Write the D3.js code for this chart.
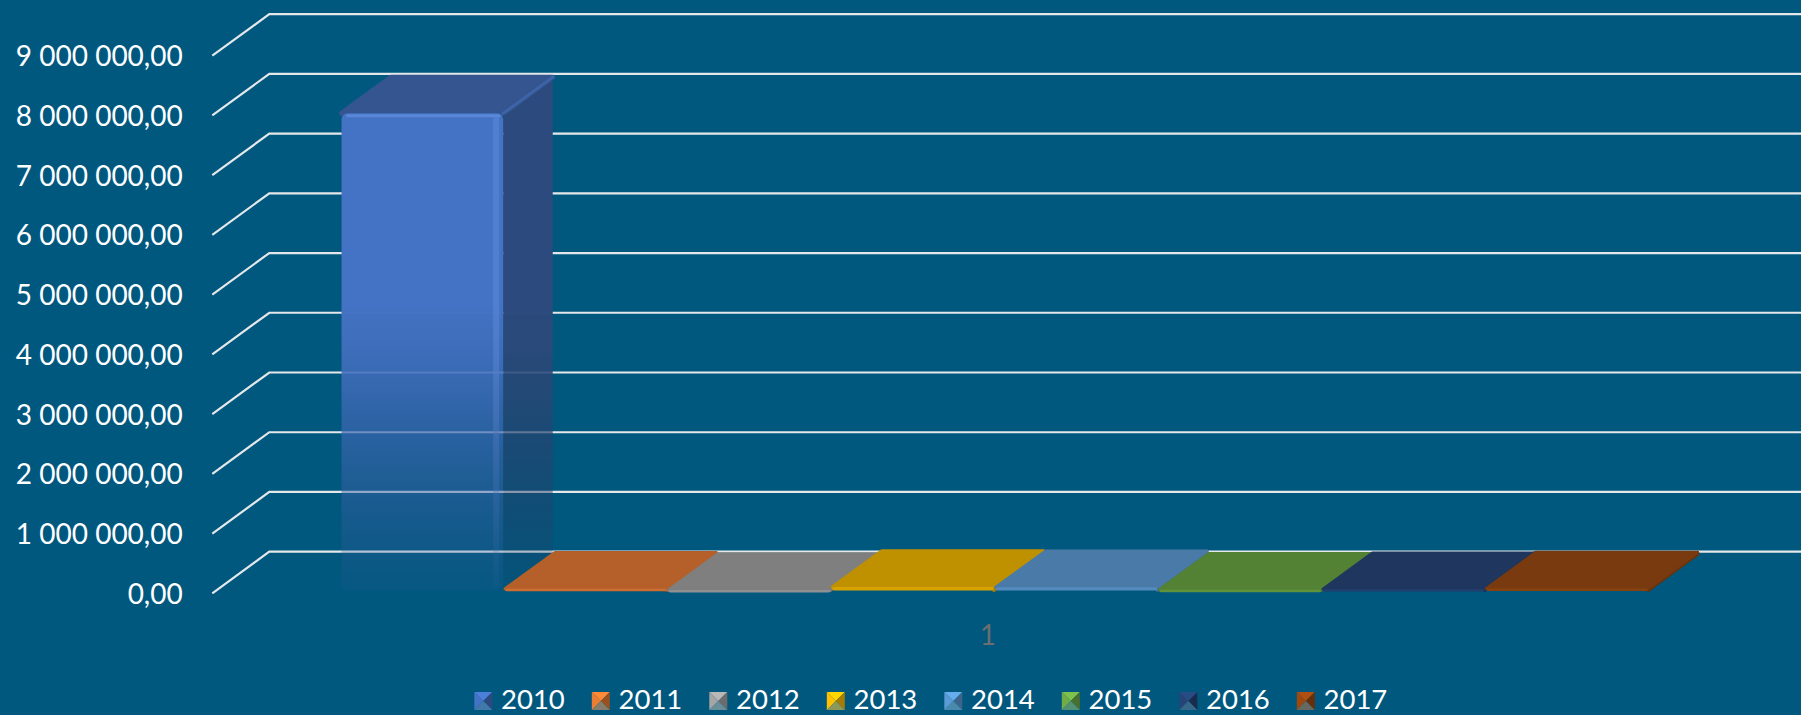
<!DOCTYPE html>
<html><head><meta charset="utf-8">
<script src="https://cdn.jsdelivr.net/npm/d3@7"></script>
<style>html,body{margin:0;padding:0;background:#00587f;overflow:hidden}</style>
</head><body><svg id="chart" width="1801" height="715"></svg>
<script>
// ---- data ----
const categories = ["1"];
const years = ["2010", "2011", "2012", "2013", "2014", "2015", "2016", "2017"];
const values = [7990000, 30000, 10000, 60000, 55000, 15000, 25000, 35000];
const yTicks = [0, 1000000, 2000000, 3000000, 4000000, 5000000, 6000000, 7000000, 8000000, 9000000];
const yMax = 9000000;
// palette (legend base colours) and rendered top-face colours
const palette = ["#4472C4", "#ED7D31", "#A5A5A5", "#FFC000", "#5B9BD5", "#70AD47", "#264478", "#9E480E"];
const topColors = ["#34558f", "#b5602a", "#7f7f7f", "#bf9000", "#4a7aa8", "#548235", "#1f365f", "#783a0e"];

// ---- layout ----
const W = 1801, H = 715, BG = "#00587f";
const FONT = "Lato, 'Open Sans', sans-serif";
const plot = {x0: 212.3, x1: 1744, y0: 593.3, y1: 55.7};
const depth = {dx: 57, dy: -41.6};
const barFront = 0.065, barDepth = 0.87;

const svg = d3.select("#chart");
svg.append("rect").attr("width", W).attr("height", H).attr("fill", BG);
const defs = svg.append("defs");

const y = d3.scaleLinear().domain([0, yMax]).range([plot.y0, plot.y1]);
const x0 = d3.scaleBand().domain(categories).range([plot.x0, plot.x1])
  .paddingInner(0.147).paddingOuter(0.0735).align(0.574);
const x1 = d3.scaleBand().domain(years)
  .range([x0(categories[0]), x0(categories[0]) + x0.bandwidth()]).paddingInner(0.012).paddingOuter(0);

// ---- gridlines (left wall diagonal + back wall horizontal) ----
svg.append("g").selectAll("path").data(yTicks).join("path")
  .attr("d", t => `M${plot.x0},${y(t)} L${plot.x0 + depth.dx},${y(t) + depth.dy} L${W},${y(t) + depth.dy}`)
  .attr("fill", "none").attr("stroke", "#e4e8ea").attr("stroke-width", 2.2);

// ---- bars ----
const fmt = d3.formatLocale({decimal: ",", thousands: " ", grouping: [3], currency: ["", ""]}).format(",.2f");

function fadeGrad(id, c, yTop, yBot) {
  const g = defs.append("linearGradient").attr("id", id)
    .attr("gradientUnits", "userSpaceOnUse").attr("x1", 0).attr("x2", 0).attr("y1", yTop).attr("y2", yBot);
  const base = d3.color(c);
  const stops = [[0, 0, 1], [0.4, 0, 1], [0.5, 0.08, 0.93], [0.6, 0.2, 0.8], [0.7, 0.33, 0.64],
                 [0.8, 0.47, 0.47], [0.9, 0.62, 0.3], [1, 0.8, 0.12]];
  stops.forEach(([o, dk, a]) => {
    g.append("stop").attr("offset", o).attr("stop-color", base.darker(dk).formatHex()).attr("stop-opacity", a);
  });
  return `url(#${id})`;
}

const bdx = depth.dx * barDepth, bdy = depth.dy * barDepth;
const sy = depth.dy * barFront;
const gBars = svg.append("g");
years.forEach((yr, i) => {
  const v = values[i];
  const xl = x1(yr), xr = xl + x1.bandwidth();
  const yb = y(0) + sy, yt = y(v) + sy;
  const g = gBars.append("g");
  const tall = (yb - yt) > 20;
  const front = tall ? fadeGrad("gf" + i, palette[i], yt, yb) : d3.color(topColors[i]).brighter(0.35).formatHex();
  const side = tall ? fadeGrad("gs" + i, "#2c4a7d", yt, yb) : d3.color(topColors[i]).darker(0.4).formatHex();
  const top = topColors[i];
  const sw = tall ? 2 : 3;
  // side face
  g.append("path").attr("d", `M${xr},${yt} L${xr + bdx},${yt + bdy} L${xr + bdx},${yb + bdy} L${xr},${yb} Z`)
    .attr("fill", side).attr("stroke", tall ? "none" : side).attr("stroke-width", sw).attr("stroke-linejoin", "round");
  // top face
  g.append("path").attr("d", `M${xl},${yt} L${xr},${yt} L${xr + bdx},${yt + bdy} L${xl + bdx},${yt + bdy} Z`)
    .attr("fill", top).attr("stroke", top).attr("stroke-width", tall ? 5 : sw).attr("stroke-linejoin", "round");
  // front face
  g.append("rect").attr("x", xl).attr("y", yt).attr("width", xr - xl).attr("height", Math.max(2.5, yb - yt))
    .attr("rx", tall ? 6 : 2).attr("fill", front);
  if (tall) {
    // bevel highlights
    g.append("line").attr("x1", xl + 6).attr("x2", xr - 4).attr("y1", yt + 2.5).attr("y2", yt + 2.5)
      .attr("stroke", "#5a88d8").attr("stroke-width", 3).attr("stroke-linecap", "round");
    g.append("rect").attr("x", xr - 10).attr("y", yt + 4).attr("width", 6).attr("height", yb - yt - 8)
      .attr("fill", fadeGrad("gh" + i, "#5585d6", yt, yb)).attr("opacity", 0.7);
    g.append("line").attr("x1", xr).attr("x2", xr + bdx).attr("y1", yt).attr("y2", yt + bdy)
      .attr("stroke", "#3d63a8").attr("stroke-width", 3).attr("stroke-linecap", "round");
  }
});

// ---- y axis labels ----
const axis = d3.axisLeft(y).tickValues(yTicks).tickFormat(fmt).tickSizeInner(0).tickSizeOuter(0).tickPadding(29.6);
const gAxis = svg.append("g").attr("transform", `translate(${plot.x0},0)`).call(axis);
gAxis.select(".domain").remove();
gAxis.selectAll("text").attr("fill", "#ffffff").attr("font-family", FONT).attr("font-size", 28).attr("dy", "0.36em");

// ---- category label ----
svg.append("text").attr("x", x0(categories[0]) + x0.bandwidth() / 2 - 7).attr("y", 634.7).attr("dy", "0.36em")
  .attr("text-anchor", "middle").attr("fill", "#6b6e70").attr("font-family", FONT).attr("font-size", 28)
  .text(categories[0]);

// ---- legend ----
const lx = d3.scaleBand().domain(years).range([474.3, 474.3 + years.length * 117.5]);
const ms = 18, my = 692;
const gLeg = svg.append("g");
years.forEach((yr, i) => {
  const x = lx(yr), c = d3.color(palette[i]);
  const cx = x + ms / 2, cy = my + ms / 2;
  const tri = (pts, col) => gLeg.append("path").attr("d", "M" + pts.map(p => p.join(",")).join("L") + "Z").attr("fill", col);
  tri([[x, my], [x + ms, my], [cx, cy]], c.brighter(0.3).formatHex());
  tri([[x, my], [x, my + ms], [cx, cy]], c.formatHex());
  tri([[x + ms, my], [x + ms, my + ms], [cx, cy]], c.darker(1.2).formatHex());
  tri([[x, my + ms], [x + ms, my + ms], [cx, cy]], d3.interpolateRgb(c.formatHex(), "#3f7f95")(0.6));
  gLeg.append("text").attr("x", x + 26.7).attr("y", 709).attr("fill", "#ffffff")
    .attr("font-family", FONT).attr("font-size", 27.5).text(yr);
});
</script></body></html>
